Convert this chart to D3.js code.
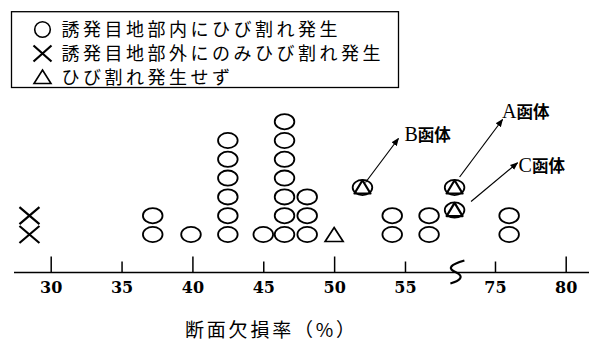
<!DOCTYPE html>
<html><head><meta charset="utf-8">
<script src="https://cdn.jsdelivr.net/npm/d3@7"></script>
<style>
html,body{margin:0;padding:0;background:#fff;}
svg{display:block;}
</style></head>
<body>
<svg id="chart" width="589" height="343"></svg>
<script>
// ---- data ----
const circleX = [37.2, 39.9, 42.5, 45.0, 46.5, 48.1, 54.1, 56.7, 76.0];
const circleCount = [2, 1, 6, 1, 7, 3, 2, 2, 2];
const crossX = [28.5, 28.5];
const crossLevel = [1, 2];
const triangleX = [50.0];
const triangleLevel = [1];
const boxNames = ["A", "B", "C"];
const boxX = [58.5, 52.0, 58.5];
const boxLevel = [3.5, 3.5, 2.3];
const tickValues = [30, 35, 40, 45, 50, 55, 75, 80];
const majorTicks = [30, 40, 50, 80];
const minorTicks = [35, 45, 55, 75];
const legendLabels = ["誘発目地部内にひび割れ発生", "誘発目地部外にのみひび割れ発生", "ひび割れ発生せず"];
const axisTitle = "断面欠損率（%）";
const boxSuffix = "函体";

// ---- layout ----
const svg = d3.select("#chart");
const x = d3.scaleLinear().domain([30, 58.6, 72.3, 80]).range([50.7, 456, 456.8, 565.7]);
const y = d3.scaleLinear().domain([1, 7]).range([234.5, 121.7]);
const axisY = 272.5;
const RX = 9.8, RY = 7.6;
const cjk = "'Noto Sans CJK JP', 'Noto Sans CJK SC', sans-serif";

// axis line
svg.append("line").attr("x1", 14).attr("x2", 589).attr("y1", axisY).attr("y2", axisY)
  .attr("stroke", "#000").attr("stroke-width", 1.6);

// ticks (upwards)
const gMaj = svg.append("g").attr("transform", `translate(0,${axisY})`)
  .call(d3.axisTop(x).tickValues(majorTicks).tickSize(16).tickFormat(""));
const gMin = svg.append("g").attr("transform", `translate(0,${axisY})`)
  .call(d3.axisTop(x).tickValues(minorTicks).tickSize(11).tickFormat(""));
[gMaj, gMin].forEach(g => {
  g.select(".domain").remove();
  g.selectAll("line").attr("stroke", "#000").attr("stroke-width", 1.5);
});
// labels
const gLab = svg.append("g").attr("transform", `translate(0,${axisY})`)
  .call(d3.axisBottom(x).tickValues(tickValues).tickSize(0).tickPadding(9).tickFormat(d3.format("d")));
gLab.select(".domain").remove();
gLab.selectAll("text").attr("font-family", "'DejaVu Serif', serif").attr("font-weight", "bold")
  .attr("font-size", 16).attr("fill", "#000");

// break squiggle
const bx = (x(58.6) + x(72.3)) / 2;
svg.append("path")
  .attr("d", `M${bx+8},${axisY-12} C${bx-6},${axisY-8} ${bx-10},${axisY-4} ${bx},${axisY} C${bx+8},${axisY+4} ${bx+4},${axisY+8} ${bx-6},${axisY+11}`)
  .attr("fill", "none").attr("stroke", "#000").attr("stroke-width", 2.2);

// circles
const circData = [];
circleX.forEach((v, i) => { for (let k = 1; k <= circleCount[i]; k++) circData.push({v, k}); });
svg.append("g").selectAll("ellipse").data(circData).join("ellipse")
  .attr("cx", d => x(d.v)).attr("cy", d => y(d.k)).attr("rx", RX).attr("ry", RY)
  .attr("fill", "none").attr("stroke", "#000").attr("stroke-width", 1.8);

// crosses
const cr = crossX.map((v, i) => ({v, k: crossLevel[i]}));
svg.append("g").selectAll("path").data(cr).join("path")
  .attr("d", d => { const cx = x(d.v), cy = y(d.k);
    return `M${cx-10},${cy-8.5}L${cx+10},${cy+8.5}M${cx+10},${cy-8.5}L${cx-10},${cy+8.5}`; })
  .attr("stroke", "#000").attr("stroke-width", 2.2).attr("fill", "none");

// triangles
const tr = triangleX.map((v, i) => ({v, k: triangleLevel[i]}));
svg.append("g").selectAll("path").data(tr).join("path")
  .attr("d", d => { const cx = x(d.v), cy = y(d.k);
    return `M${cx},${cy-7}L${cx+9},${cy+7}L${cx-9},${cy+7}Z`; })
  .attr("stroke", "#000").attr("stroke-width", 1.7).attr("fill", "none");

// boxes (circle + triangle) with annotations
const boxes = boxNames.map((n, i) => ({n, v: boxX[i], k: boxLevel[i]}));
const ann = {
  A: {s: [5, -10.5], e: [48, -68], t: [47.5, -69.5]},
  B: {s: [3, -5], e: [36, -49], t: [42, -46.5]},
  C: {s: [16.5, -8.5], e: [63, -47.3], t: [64, -38.5]}
};
svg.append("defs").append("marker").attr("id", "ah")
  .attr("viewBox", "0 0 10 10").attr("refX", 9).attr("refY", 5)
  .attr("markerWidth", 8).attr("markerHeight", 8).attr("markerUnits", "userSpaceOnUse")
  .attr("orient", "auto")
  .append("path").attr("d", "M0,1 L10,5 L0,9 Z").attr("fill", "#000");
const gb = svg.append("g");
boxes.forEach(d => {
  const cx = x(d.v), cy = y(d.k), a = ann[d.n];
  gb.append("ellipse").attr("cx", cx).attr("cy", cy).attr("rx", RX).attr("ry", RY)
    .attr("fill", "none").attr("stroke", "#000").attr("stroke-width", 1.8);
  gb.append("path").attr("d", `M${cx},${cy-7.2}L${cx+8},${cy+6}L${cx-8},${cy+6}Z`)
    .attr("fill", "none").attr("stroke", "#000").attr("stroke-width", 2.2).attr("stroke-linejoin", "round");
  gb.append("line").attr("x1", cx + a.s[0]).attr("y1", cy + a.s[1])
    .attr("x2", cx + a.e[0]).attr("y2", cy + a.e[1])
    .attr("stroke", "#000").attr("stroke-width", 1.2).attr("marker-end", "url(#ah)");
  const t = gb.append("text").attr("x", cx + a.t[0]).attr("y", cy + a.t[1]).attr("fill", "#000");
  t.append("tspan").attr("font-family", "'Liberation Serif', serif").attr("font-size", 20).text(d.n);
  t.append("tspan").attr("font-family", cjk).attr("font-weight", "bold").attr("font-size", 16.5).text(boxSuffix);
});

// legend
svg.append("rect").attr("x", 11.5).attr("y", 11.7).attr("width", 387).attr("height", 75.8)
  .attr("fill", "none").attr("stroke", "#000").attr("stroke-width", 1.3);
const lgY = [29.5, 53.5, 77];
const symX = 42.5;
svg.append("circle").attr("cx", symX).attr("cy", lgY[0]).attr("r", 7.8)
  .attr("fill", "none").attr("stroke", "#000").attr("stroke-width", 1.6);
svg.append("path").attr("d", `M${symX-9},${lgY[1]-8}L${symX+9},${lgY[1]+8}M${symX+9},${lgY[1]-8}L${symX-9},${lgY[1]+8}`)
  .attr("stroke", "#000").attr("stroke-width", 2.2);
svg.append("path").attr("d", `M${symX},${lgY[2]-7}L${symX+8.5},${lgY[2]+6.5}L${symX-8.5},${lgY[2]+6.5}Z`)
  .attr("fill", "none").attr("stroke", "#000").attr("stroke-width", 1.6);
svg.append("g").selectAll("text").data(legendLabels).join("text")
  .attr("x", 61.5).attr("y", (d, i) => lgY[i] + 6.8)
  .attr("font-family", cjk).attr("font-size", 18).attr("letter-spacing", 3.5)
  .attr("fill", "#000").text(d => d);

// axis title
svg.append("text").attr("x", 185).attr("y", 337).attr("font-family", cjk)
  .attr("font-size", 19).attr("letter-spacing", 2.8).attr("fill", "#000").text(axisTitle);
</script>
</body></html>
